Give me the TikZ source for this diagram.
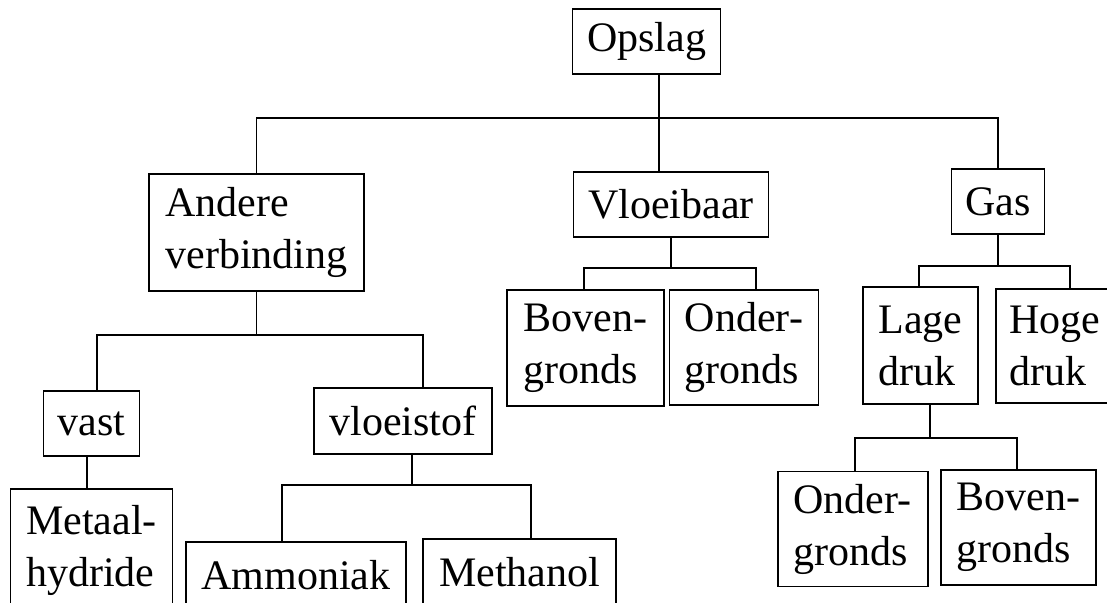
\documentclass[tikz,border=0pt]{standalone}
\usepackage{fontspec}
\setmainfont{Liberation Serif}
\begin{document}
\begin{tikzpicture}[x=1pt, y=-1pt,
        blok/.style={draw, line width=1.8pt, inner sep=0pt, align=left,
                     font=\fontsize{42}{52}\selectfont},
        lijn/.style={line width=1.8pt}]
    \useasboundingbox (0,0) rectangle (1107,602);
    \clip (0,0) rectangle (1107,602);

    % bovenste niveau
    \node [blok, minimum width=148pt, minimum height=65pt] (opslag) at (646.5,41.5) {Opslag};

    \node [blok, minimum width=215pt, minimum height=117pt] (andere) at (256.5,232.5) {Andere\\verbinding};
    \node [blok, minimum width=195pt, minimum height=65pt] (vloei) at (671,204.5) {Vloeibaar};
    \node [blok, minimum width=93pt, minimum height=65pt] (gas) at (998,201.5) {Gas};

    % onder Vloeibaar en Gas
    \node [blok, minimum width=157pt, minimum height=116pt] (bovenV) at (585.5,348) {Boven-\\gronds};
    \node [blok, minimum width=149pt, minimum height=115pt] (onderV) at (744,347.5) {Onder-\\gronds};
    \node [blok, minimum width=115pt, minimum height=117pt] (lage) at (920.5,345.5) {Lage\\druk};
    \node [blok, anchor=north west, minimum width=118pt, minimum height=114pt] (hoge) at (995,288) {Hoge\\druk};

    \node [blok, minimum width=150pt, minimum height=115pt] (onderB) at (852.6,529) {Onder-\\gronds};
    \node [blok, minimum width=155pt, minimum height=115pt] (bovenB) at (1018.7,527.5) {Boven-\\gronds};

    % onder Andere verbinding
    \node [blok, minimum width=96pt, minimum height=65pt] (vast) at (91.5,423.5) {vast};
    \node [blok, minimum width=178pt, minimum height=66pt] (vloeistof) at (403,421) {vloeistof};

    \node [blok, anchor=north, minimum width=162pt, minimum height=124pt] (metaal) at (91.5,488) {Metaal-\\hydride};
    \node [blok, anchor=north, minimum width=220pt, minimum height=66pt] (ammoniak) at (296,541) {Ammoniak};
    \node [blok, anchor=north, minimum width=193pt, minimum height=66pt] (methanol) at (519.5,538) {Methanol};

    % knooppunten
    \coordinate (top) at (659,118);
    \coordinate (vlL) at (584,268);
    \coordinate (vlR) at (756,268);
    \coordinate (gaL) at (918.7,266);
    \coordinate (gaR) at (1070,266);
    \coordinate (ldM) at (930,438);
    \coordinate (ldL) at (854.6,438);
    \coordinate (ldR) at (1017,438);
    \coordinate (avL) at (97,335);
    \coordinate (avR) at (423,335);
    \coordinate (vaM) at (87,470);
    \coordinate (vsM) at (412,485);
    \coordinate (vsL) at (282,485);
    \coordinate (vsR) at (531,485);

    \draw [lijn] (opslag.south -| top) -- (vloei.north -| top);
    \draw [lijn] (andere.north) |- (top) -| (gas.north);

    \draw [lijn] (vloei.south) -- (vloei.south |- vlL);
    \draw [lijn] (bovenV.north -| vlL) -- (vlL) -- (vlR) -- (onderV.north -| vlR);

    \draw [lijn] (gas.south) -- (gas.south |- gaL);
    \draw [lijn] (lage.north -| gaL) -- (gaL) -- (gaR) -- (hoge.north -| gaR);

    \draw [lijn] (lage.south -| ldM) -- (ldM);
    \draw [lijn] (onderB.north -| ldL) -- (ldL) -- (ldR) -- (bovenB.north -| ldR);

    \draw [lijn] (andere.south) -- (andere.south |- avL);
    \draw [lijn] (vast.north -| avL) -- (avL) -- (avR) -- (vloeistof.north -| avR);

    \draw [lijn] (vast.south -| vaM) -- (metaal.north -| vaM);

    \draw [lijn] (vloeistof.south -| vsM) -- (vsM);
    \draw [lijn] (ammoniak.north -| vsL) -- (vsL) -- (vsR) -- (methanol.north -| vsR);
\end{tikzpicture}
\end{document}
